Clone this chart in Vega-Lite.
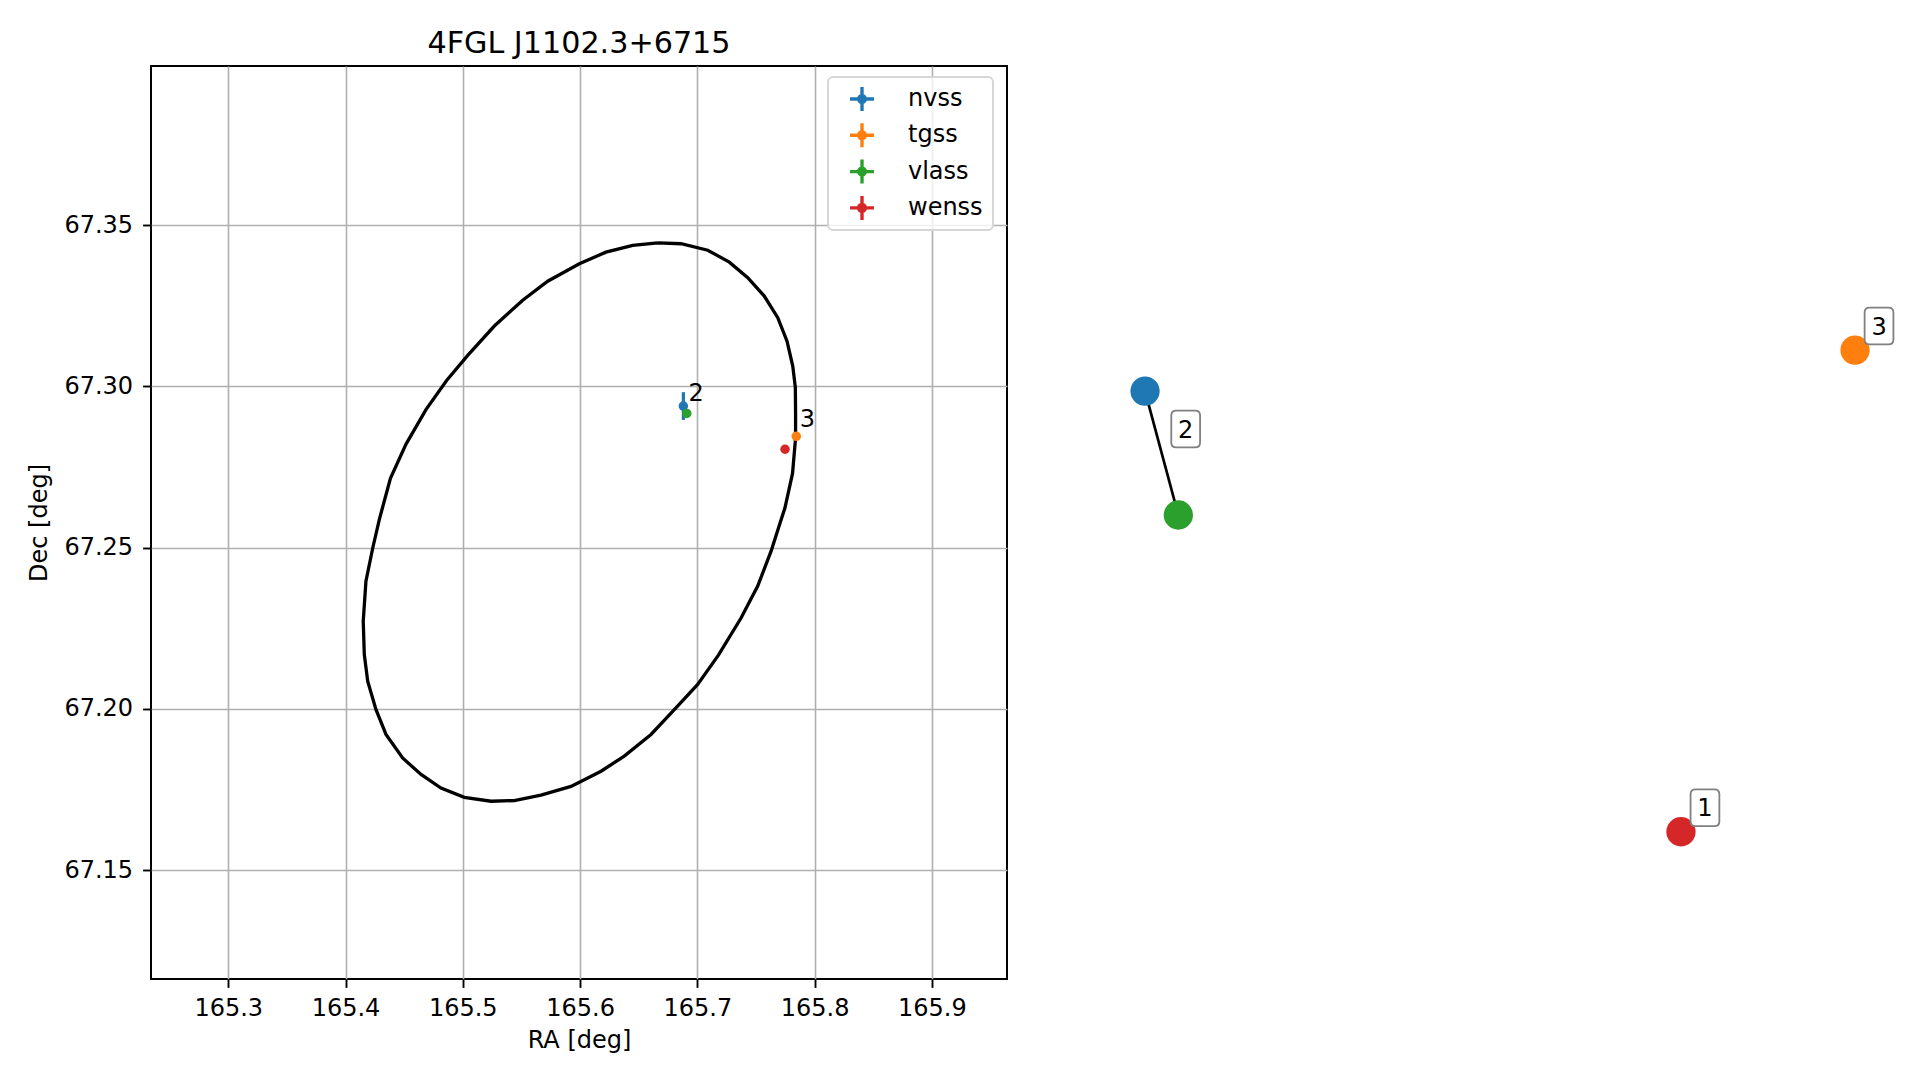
{
  "$schema": "https://vega.github.io/schema/vega-lite/v6.json",
  "padding": {"left": 26, "top": 27, "right": 0, "bottom": 0},
  "background": "white",
  "bounds": "flush",
  "spacing": 64,
  "config": {
    "font": "DejaVu Sans",
    "view": {"stroke": "black", "strokeWidth": 2},
    "axis": {
      "labelFont": "DejaVu Sans", "titleFont": "DejaVu Sans",
      "labelFontSize": 24, "titleFontSize": 24, "titleFontWeight": "normal",
      "labelColor": "black", "titleColor": "black",
      "tickColor": "black", "tickWidth": 1.9, "tickSize": 8.4,
      "gridColor": "#b0b0b0", "gridWidth": 1.6, "gridOpacity": 1,
      "domain": false, "labelFlush": false, "labelOverlap": false
    },
    "legend": {
      "strokeColor": "#d6d6d6", "strokeWidth": 2, "cornerRadius": 5,
      "fillColor": "rgba(255,255,255,0.8)", "padding": 10
    }
  },
  "resolve": {"scale": {"color": "independent"}, "legend": {"color": "independent"}},
  "datasets": {
    "sources": [
      {"survey": "nvss", "ra": 165.6881, "dec": 67.2939, "ra_lo": 165.6879, "ra_hi": 165.6883, "dec_lo": 67.2896, "dec_hi": 67.2982, "group": 2, "u": 0.0892, "v": 0.6440},
      {"survey": "tgss", "ra": 165.7844, "dec": 67.2845, "ra_lo": 165.7838, "ra_hi": 165.7850, "dec_lo": 67.2841, "dec_hi": 67.2849, "group": 3, "u": 0.9446, "v": 0.6889},
      {"survey": "vlass", "ra": 165.6910, "dec": 67.2916, "ra_lo": 165.6909, "ra_hi": 165.6911, "dec_lo": 67.2915, "dec_hi": 67.2917, "group": 2, "u": 0.1293, "v": 0.5082},
      {"survey": "wenss", "ra": 165.7748, "dec": 67.2805, "ra_lo": 165.7745, "ra_hi": 165.7751, "dec_lo": 67.2803, "dec_hi": 67.2807, "group": 1, "u": 0.7349, "v": 0.1613}
    ],
    "leftlabels": [
      {"label": "2", "ra": 165.68955, "dec": 67.29275},
      {"label": "3", "ra": 165.7844, "dec": 67.2845}
    ],
    "rightlabels": [
      {"label": "1", "u": 0.7349, "v": 0.1613},
      {"label": "2", "u": 0.10925, "v": 0.5761},
      {"label": "3", "u": 0.9446, "v": 0.6889}
    ],
    "ellipse": [
      {"i": 0, "ra": 165.6662, "dec": 67.3445},
      {"i": 1, "ra": 165.6861, "dec": 67.3442},
      {"i": 2, "ra": 165.7089, "dec": 67.3422},
      {"i": 3, "ra": 165.7273, "dec": 67.3385},
      {"i": 4, "ra": 165.7430, "dec": 67.3337},
      {"i": 5, "ra": 165.7571, "dec": 67.3280},
      {"i": 6, "ra": 165.7686, "dec": 67.3213},
      {"i": 7, "ra": 165.7765, "dec": 67.3140},
      {"i": 8, "ra": 165.7814, "dec": 67.3063},
      {"i": 9, "ra": 165.7836, "dec": 67.2996},
      {"i": 10, "ra": 165.7838, "dec": 67.2913},
      {"i": 11, "ra": 165.7838, "dec": 67.2840},
      {"i": 12, "ra": 165.7812, "dec": 67.2730},
      {"i": 13, "ra": 165.7747, "dec": 67.2623},
      {"i": 14, "ra": 165.7705, "dec": 67.2576},
      {"i": 15, "ra": 165.7629, "dec": 67.2489},
      {"i": 16, "ra": 165.7515, "dec": 67.2381},
      {"i": 17, "ra": 165.7373, "dec": 67.2282},
      {"i": 18, "ra": 165.7180, "dec": 67.2167},
      {"i": 19, "ra": 165.7003, "dec": 67.2076},
      {"i": 20, "ra": 165.6804, "dec": 67.1998},
      {"i": 21, "ra": 165.6605, "dec": 67.1921},
      {"i": 22, "ra": 165.6377, "dec": 67.1854},
      {"i": 23, "ra": 165.6179, "dec": 67.1807},
      {"i": 24, "ra": 165.5923, "dec": 67.1760},
      {"i": 25, "ra": 165.5667, "dec": 67.1733},
      {"i": 26, "ra": 165.5439, "dec": 67.1716},
      {"i": 27, "ra": 165.5241, "dec": 67.1714},
      {"i": 28, "ra": 165.5013, "dec": 67.1726},
      {"i": 29, "ra": 165.4814, "dec": 67.1755},
      {"i": 30, "ra": 165.4644, "dec": 67.1797},
      {"i": 31, "ra": 165.4487, "dec": 67.1848},
      {"i": 32, "ra": 165.4345, "dec": 67.1921},
      {"i": 33, "ra": 165.4260, "dec": 67.1998},
      {"i": 34, "ra": 165.4189, "dec": 67.2086},
      {"i": 35, "ra": 165.4160, "dec": 67.2169},
      {"i": 36, "ra": 165.4151, "dec": 67.2272},
      {"i": 37, "ra": 165.4174, "dec": 67.2396},
      {"i": 38, "ra": 165.4232, "dec": 67.2499},
      {"i": 39, "ra": 165.4290, "dec": 67.2590},
      {"i": 40, "ra": 165.4383, "dec": 67.2715},
      {"i": 41, "ra": 165.4516, "dec": 67.2821},
      {"i": 42, "ra": 165.4686, "dec": 67.2928},
      {"i": 43, "ra": 165.4862, "dec": 67.3018},
      {"i": 44, "ra": 165.5040, "dec": 67.3095},
      {"i": 45, "ra": 165.5269, "dec": 67.3187},
      {"i": 46, "ra": 165.5511, "dec": 67.3267},
      {"i": 47, "ra": 165.5724, "dec": 67.3326},
      {"i": 48, "ra": 165.5994, "dec": 67.3380},
      {"i": 49, "ra": 165.6221, "dec": 67.3416},
      {"i": 50, "ra": 165.6449, "dec": 67.3437},
      {"i": 51, "ra": 165.6662, "dec": 67.3445}
    ]
  },
  "hconcat": [
    {
      "width": 856,
      "height": 913,
      "title": {"text": "4FGL J1102.3+6715", "font": "DejaVu Sans", "fontSize": 30.2, "fontWeight": "normal", "color": "black", "frame": "group", "anchor": "middle", "baseline": "alphabetic", "offset": -17},
      "layer": [
        {
          "data": {"name": "ellipse"},
          "mark": {"type": "line", "color": "black", "strokeWidth": 3.3, "interpolate": "linear"},
          "encoding": {
            "x": {"field": "ra", "type": "quantitative", "scale": {"domain": [165.2341, 165.9641], "zero": false, "nice": false},
                  "axis": {"title": "RA [deg]", "values": [165.3, 165.4, 165.5, 165.6, 165.7, 165.8, 165.9], "format": ".1f", "grid": true, "labelPadding": 9, "titlePadding": 8}},
            "y": {"field": "dec", "type": "quantitative", "scale": {"domain": [67.1163, 67.3993], "zero": false, "nice": false},
                  "axis": {"title": "Dec [deg]", "values": [67.15, 67.2, 67.25, 67.3, 67.35], "format": ".2f", "grid": true, "labelPadding": 10, "titlePadding": 12}},
            "order": {"field": "i", "type": "quantitative"}
          }
        },
        {
          "data": {"name": "sources"},
          "mark": {"type": "rule", "strokeWidth": 3.2},
          "encoding": {
            "x": {"field": "ra", "type": "quantitative", "scale": {"domain": [165.2341, 165.9641], "zero": false, "nice": false}},
            "y": {"field": "dec_lo", "type": "quantitative", "scale": {"domain": [67.1163, 67.3993], "zero": false, "nice": false}},
            "y2": {"field": "dec_hi"},
            "color": {"field": "survey", "type": "nominal", "scale": {"domain": ["nvss", "tgss", "vlass", "wenss"], "range": ["#1f77b4", "#ff7f0e", "#2ca02c", "#d62728"]}}
          }
        },
        {
          "data": {"name": "sources"},
          "mark": {"type": "rule", "strokeWidth": 3.2},
          "encoding": {
            "x": {"field": "ra_lo", "type": "quantitative", "scale": {"domain": [165.2341, 165.9641], "zero": false, "nice": false}},
            "x2": {"field": "ra_hi"},
            "y": {"field": "dec", "type": "quantitative", "scale": {"domain": [67.1163, 67.3993], "zero": false, "nice": false}},
            "color": {"field": "survey", "type": "nominal", "scale": {"domain": ["nvss", "tgss", "vlass", "wenss"], "range": ["#1f77b4", "#ff7f0e", "#2ca02c", "#d62728"]}}
          }
        },
        {
          "data": {"name": "sources"},
          "mark": {"type": "point", "filled": true, "opacity": 1, "size": 90, "shape": "circle"},
          "encoding": {
            "x": {"field": "ra", "type": "quantitative", "scale": {"domain": [165.2341, 165.9641], "zero": false, "nice": false}},
            "y": {"field": "dec", "type": "quantitative", "scale": {"domain": [67.1163, 67.3993], "zero": false, "nice": false}},
            "color": {"field": "survey", "type": "nominal",
                      "scale": {"domain": ["nvss", "tgss", "vlass", "wenss"], "range": ["#1f77b4", "#ff7f0e", "#2ca02c", "#d62728"]},
                      "legend": {"title": null, "orient": "none", "legendX": 677, "legendY": 11,
                                 "symbolType": "M-1,-0.14H1V0.14H-1Z M-0.14,-1H0.14V1H-0.14Z M0.42,0A0.42,0.42 0 1,1 -0.42,0A0.42,0.42 0 1,1 0.42,0Z",
                                 "symbolSize": 576, "symbolStrokeWidth": 0, "symbolOpacity": 1,
                                 "labelFont": "DejaVu Sans", "labelFontSize": 24, "labelColor": "black",
                                 "rowPadding": 12.3, "symbolOffset": 12, "labelOffset": 34}}
          }
        },
        {
          "data": {"name": "leftlabels"},
          "mark": {"type": "text", "font": "DejaVu Sans", "fontSize": 24, "color": "black", "align": "left", "baseline": "alphabetic", "dx": 3.5, "dy": -9},
          "encoding": {
            "x": {"field": "ra", "type": "quantitative", "scale": {"domain": [165.2341, 165.9641], "zero": false, "nice": false}},
            "y": {"field": "dec", "type": "quantitative", "scale": {"domain": [67.1163, 67.3993], "zero": false, "nice": false}},
            "text": {"field": "label", "type": "nominal"}
          }
        }
      ]
    },
    {
      "width": 830,
      "height": 913,
      "view": {"stroke": null},
      "layer": [
        {
          "data": {"name": "sources"},
          "transform": [{"filter": "datum.group == 2"}],
          "mark": {"type": "line", "color": "black", "strokeWidth": 2.7},
          "encoding": {
            "x": {"field": "u", "type": "quantitative", "scale": {"domain": [0, 1], "zero": false, "nice": false}, "axis": null},
            "y": {"field": "v", "type": "quantitative", "scale": {"domain": [0, 1], "zero": false, "nice": false}, "axis": null},
            "detail": {"field": "group", "type": "nominal"}
          }
        },
        {
          "data": {"name": "sources"},
          "mark": {"type": "point", "filled": true, "opacity": 1, "size": 858, "shape": "circle"},
          "encoding": {
            "x": {"field": "u", "type": "quantitative", "scale": {"domain": [0, 1], "zero": false, "nice": false}, "axis": null},
            "y": {"field": "v", "type": "quantitative", "scale": {"domain": [0, 1], "zero": false, "nice": false}, "axis": null},
            "color": {"field": "survey", "type": "nominal", "scale": {"domain": ["nvss", "tgss", "vlass", "wenss"], "range": ["#1f77b4", "#ff7f0e", "#2ca02c", "#d62728"]}, "legend": null}
          }
        },
        {
          "data": {"name": "rightlabels"},
          "mark": {"type": "point", "filled": false, "opacity": 1, "fill": "white", "fillOpacity": 1, "stroke": "#808080", "strokeWidth": 1.8, "size": 1350,
                   "shape": "M-0.514,-1H0.514Q0.784,-1 0.784,-0.73V0.73Q0.784,1 0.514,1H-0.514Q-0.784,1 -0.784,0.73V-0.73Q-0.784,-1 -0.514,-1Z",
                   "xOffset": 24, "yOffset": -24},
          "encoding": {
            "x": {"field": "u", "type": "quantitative", "scale": {"domain": [0, 1], "zero": false, "nice": false}, "axis": null},
            "y": {"field": "v", "type": "quantitative", "scale": {"domain": [0, 1], "zero": false, "nice": false}, "axis": null}
          }
        },
        {
          "data": {"name": "rightlabels"},
          "mark": {"type": "text", "font": "DejaVu Sans", "fontSize": 24, "color": "black", "align": "center", "baseline": "middle", "dx": 24, "dy": -22.5},
          "encoding": {
            "x": {"field": "u", "type": "quantitative", "scale": {"domain": [0, 1], "zero": false, "nice": false}, "axis": null},
            "y": {"field": "v", "type": "quantitative", "scale": {"domain": [0, 1], "zero": false, "nice": false}, "axis": null},
            "text": {"field": "label", "type": "nominal"}
          }
        }
      ]
    }
  ]
}
